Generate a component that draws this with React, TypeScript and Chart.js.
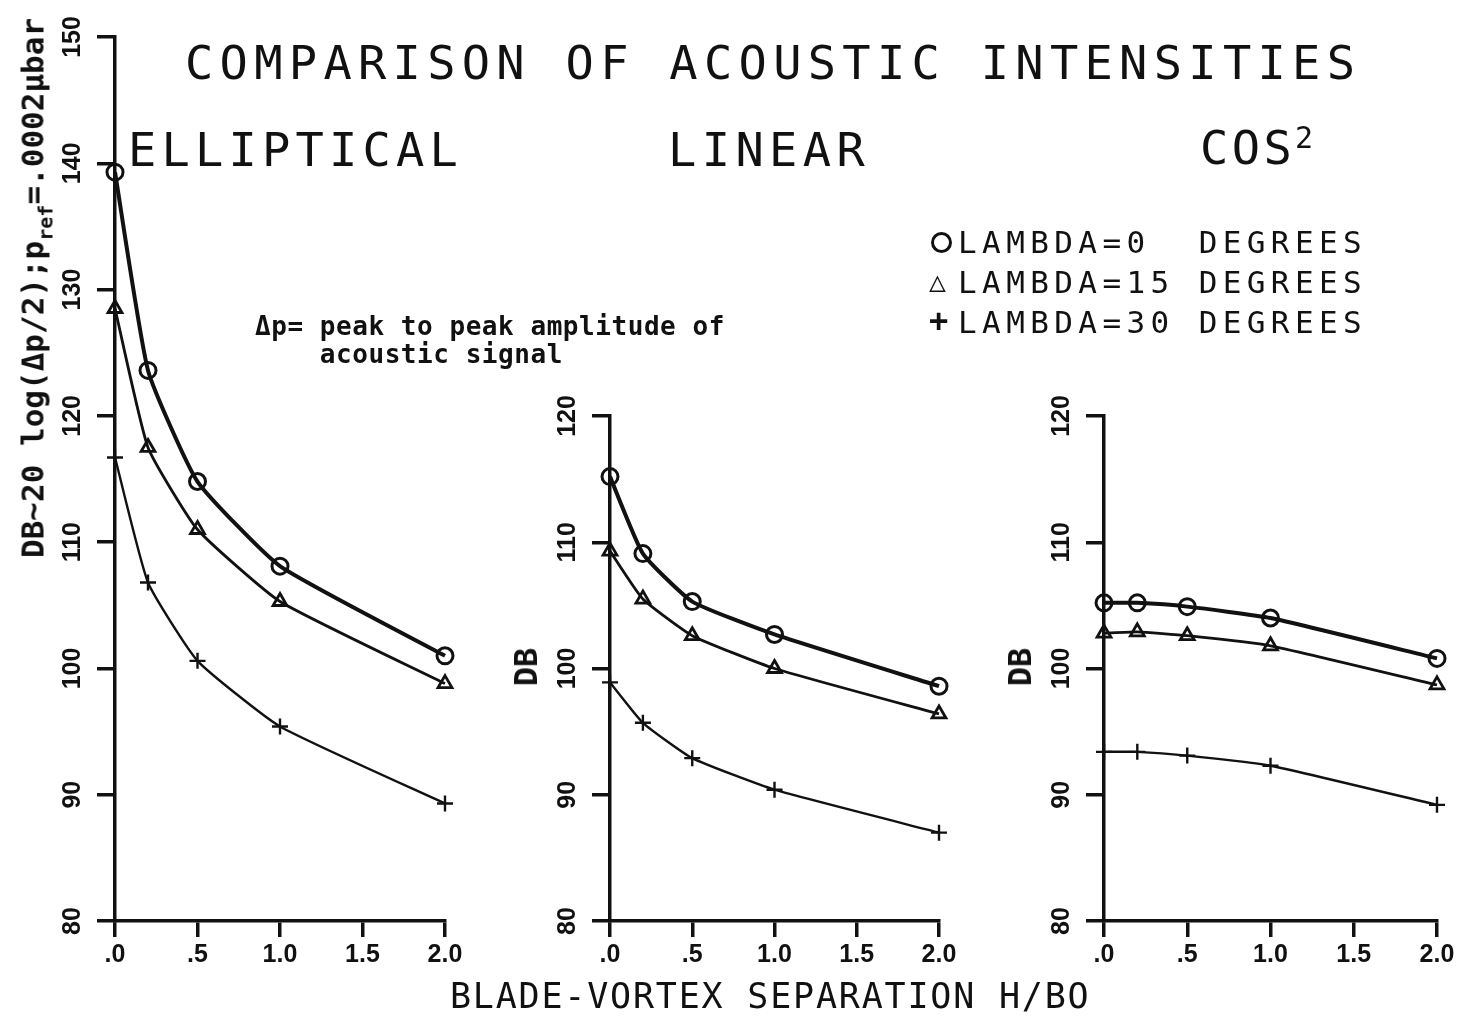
import React, { useEffect, useRef } from "react";
import { Chart, registerables } from "chart.js";

Chart.register(...registerables);

// ---------------- data ----------------
const separation = [0, 0.2, 0.5, 1.0, 2.0];

const ellipticalL0 = [139.3, 123.6, 114.8, 108.1, 101.0];
const ellipticalL15 = [128.5, 117.5, 111.0, 105.3, 98.8];
const ellipticalL30 = [116.7, 106.8, 100.6, 95.4, 89.3];

const linearL0 = [115.2, 109.1, 105.3, 102.7, 98.6];
const linearL15 = [109.3, 105.5, 102.6, 100.0, 96.4];
const linearL30 = [98.9, 95.7, 92.9, 90.4, 87.0];

const cosL0 = [105.2, 105.2, 104.9, 104.0, 100.8];
const cosL15 = [102.8, 102.9, 102.6, 101.8, 98.7];
const cosL30 = [93.4, 93.4, 93.1, 92.3, 89.2];

const xTickText = [".0", ".5", "1.0", "1.5", "2.0"];
const seriesNames = ["LAMBDA=0  DEGREES", "LAMBDA=15 DEGREES", "LAMBDA=30 DEGREES"];

const INK = "#111111";
const MONO = '"DejaVu Sans Mono", monospace';
const TICKFONT = '"Liberation Sans", Arial, sans-serif';

const rotatedYTicks = {
  id: "rotatedYTicks",
  afterDraw(chart: any) {
    const s = chart.scales.y;
    const ctx = chart.ctx;
    ctx.save();
    ctx.fillStyle = INK;
    ctx.font = `bold 25px ${TICKFONT}`;
    ctx.textAlign = "center";
    ctx.textBaseline = "middle";
    s.ticks.forEach((t: any) => {
      const y = s.getPixelForValue(t.value);
      ctx.save();
      ctx.translate(s.right - 42, y);
      ctx.rotate(-Math.PI / 2);
      ctx.fillText(String(t.value), 0, 0);
      ctx.restore();
    });
    ctx.restore();
  },
};

type PanelProps = {
  left: number;
  width: number;
  top: number;
  yMax: number;
  axisWidth: number;
  padRight: number;
  series: number[][];
};

function Panel({ left, width, top, yMax, axisWidth, padRight, series }: PanelProps) {
  const ref = useRef<HTMLCanvasElement | null>(null);
  useEffect(() => {
    if (!ref.current) return;
    const lineW = [4, 2.8, 2.4];
    const styles = ["circle", "triangle", "cross"];
    const radii = [8, 8, 8];
    const pbw = [3, 2.8, 2.4];
    const chart = new Chart(ref.current, {
      type: "line",
      data: {
        datasets: series.map((vals, i) => ({
          label: seriesNames[i],
          data: separation.map((x, j) => ({ x, y: vals[j] })),
          borderColor: INK,
          backgroundColor: "rgba(0,0,0,0)",
          borderWidth: lineW[i],
          pointStyle: styles[i] as any,
          pointRadius: radii[i],
          pointBorderWidth: pbw[i],
          pointBackgroundColor: "rgba(0,0,0,0)",
          pointBorderColor: INK,
          tension: 0.15,
          clip: false as any,
        })),
      },
      options: {
        animation: false,
        responsive: false,
        maintainAspectRatio: false,
        layout: { padding: { left: 0, top, right: padRight, bottom: 43 } },
        plugins: {
          legend: { display: false },
          tooltip: { enabled: false },
          title: { display: false },
        },
        scales: {
          x: {
            type: "linear",
            min: 0,
            max: 2,
            ticks: {
              stepSize: 0.5,
              autoSkip: false,
              maxRotation: 0,
              padding: 3,
              color: INK,
              font: { family: TICKFONT, weight: "bold", size: 25 },
              callback: (v: any) => xTickText[Math.round(Number(v) * 2)] ?? "",
            },
            grid: {
              drawOnChartArea: false,
              drawTicks: true,
              tickLength: 16,
              lineWidth: 3.5,
              tickWidth: 3.5,
              color: INK,
              tickColor: INK,
            },
            border: { display: true, width: 3.5, color: INK },
            afterFit: (s: any) => {
              s.height = 60;
            },
          },
          y: {
            type: "linear",
            min: 80,
            max: yMax,
            ticks: { stepSize: 10, display: false },
            grid: {
              drawOnChartArea: false,
              drawTicks: true,
              tickLength: 18,
              lineWidth: 3.5,
              tickWidth: 3.5,
              color: INK,
              tickColor: INK,
            },
            border: { display: true, width: 3.5, color: INK },
            afterFit: (s: any) => {
              s.width = axisWidth;
            },
          },
        },
      },
      plugins: [rotatedYTicks],
    } as any);
    return () => chart.destroy();
  }, []);
  return (
    <canvas
      ref={ref}
      width={width}
      height={1024}
      style={{ position: "absolute", left, top: 0, width, height: 1024 }}
    />
  );
}

function Txt({
  x,
  cy,
  size,
  ls = 0,
  bold = false,
  children,
}: {
  x: number;
  cy: number;
  size: number;
  ls?: number;
  bold?: boolean;
  children: React.ReactNode;
}) {
  return (
    <div
      style={{
        position: "absolute",
        left: x,
        top: cy - size * 0.5,
        fontFamily: MONO,
        fontSize: size,
        lineHeight: `${size}px`,
        letterSpacing: ls,
        fontWeight: bold ? "bold" : "normal",
        whiteSpace: "pre",
        color: INK,
      }}
    >
      {children}
    </div>
  );
}

function VTxt({
  cx,
  cy,
  size,
  bold = true,
  children,
}: {
  cx: number;
  cy: number;
  size: number;
  bold?: boolean;
  children: React.ReactNode;
}) {
  return (
    <div
      style={{
        position: "absolute",
        left: cx,
        top: cy,
        transform: "translate(-50%, -50%) rotate(-90deg)",
        fontFamily: MONO,
        fontSize: size,
        lineHeight: `${size}px`,
        fontWeight: bold ? "bold" : "normal",
        whiteSpace: "nowrap",
        color: INK,
      }}
    >
      {children}
    </div>
  );
}

export default function App() {
  return (
    <div
      style={{
        position: "fixed",
        left: 0,
        top: 0,
        width: 1463,
        height: 1024,
        background: "#ffffff",
        overflow: "hidden",
      }}
    >
      <Panel left={0} width={475} top={37} yMax={150} axisWidth={115} padRight={30}
        series={[ellipticalL0, ellipticalL15, ellipticalL30]} />
      <Panel left={490} width={479} top={416} yMax={120} axisWidth={120} padRight={30}
        series={[linearL0, linearL15, linearL30]} />
      <Panel left={980} width={481} top={416} yMax={120} axisWidth={124} padRight={24}
        series={[cosL0, cosL15, cosL30]} />

      <Txt x={185} cy={62} size={47} ls={6.3}>COMPARISON OF ACOUSTIC INTENSITIES</Txt>
      <Txt x={128} cy={149} size={47} ls={5.2}>ELLIPTICAL</Txt>
      <Txt x={668} cy={149} size={47} ls={5.4}>LINEAR</Txt>
      <Txt x={1200} cy={147} size={47} ls={3.4}>
        COS<span style={{ fontSize: 30, verticalAlign: "0.55em", lineHeight: 0, letterSpacing: 0 }}>2</span>
      </Txt>

      {/* legend */}
      <div style={{ position: "absolute", left: 931, top: 232, width: 15, height: 15, border: `3.5px solid ${INK}`, borderRadius: "50%" }} />
      <Txt x={929} cy={282} size={28} bold>△</Txt>
      <Txt x={929} cy={320} size={32} bold>+</Txt>
      <Txt x={958} cy={242} size={31} ls={5.4}>{seriesNames[0]}</Txt>
      <Txt x={958} cy={282} size={31} ls={5.4}>{seriesNames[1]}</Txt>
      <Txt x={958} cy={322} size={31} ls={5.4}>{seriesNames[2]}</Txt>

      {/* annotation */}
      <Txt x={255} cy={326} size={26} ls={0.55} bold>{"Δp= peak to peak amplitude of"}</Txt>
      <Txt x={255} cy={354} size={26} ls={0.55} bold>{"    acoustic signal"}</Txt>

      {/* axis titles */}
      <Txt x={450} cy={996} size={35} ls={1.8}>BLADE-VORTEX SEPARATION H/BO</Txt>
      <VTxt cx={33} cy={288} size={31}>
        DB∼20 log(Δp/2);p
        <span style={{ fontSize: 20, verticalAlign: "-0.45em", lineHeight: 0 }}>ref</span>
        =.0002μbar
      </VTxt>
      <VTxt cx={526} cy={667} size={32}>DB</VTxt>
      <VTxt cx={1020} cy={667} size={32}>DB</VTxt>
    </div>
  );
}
